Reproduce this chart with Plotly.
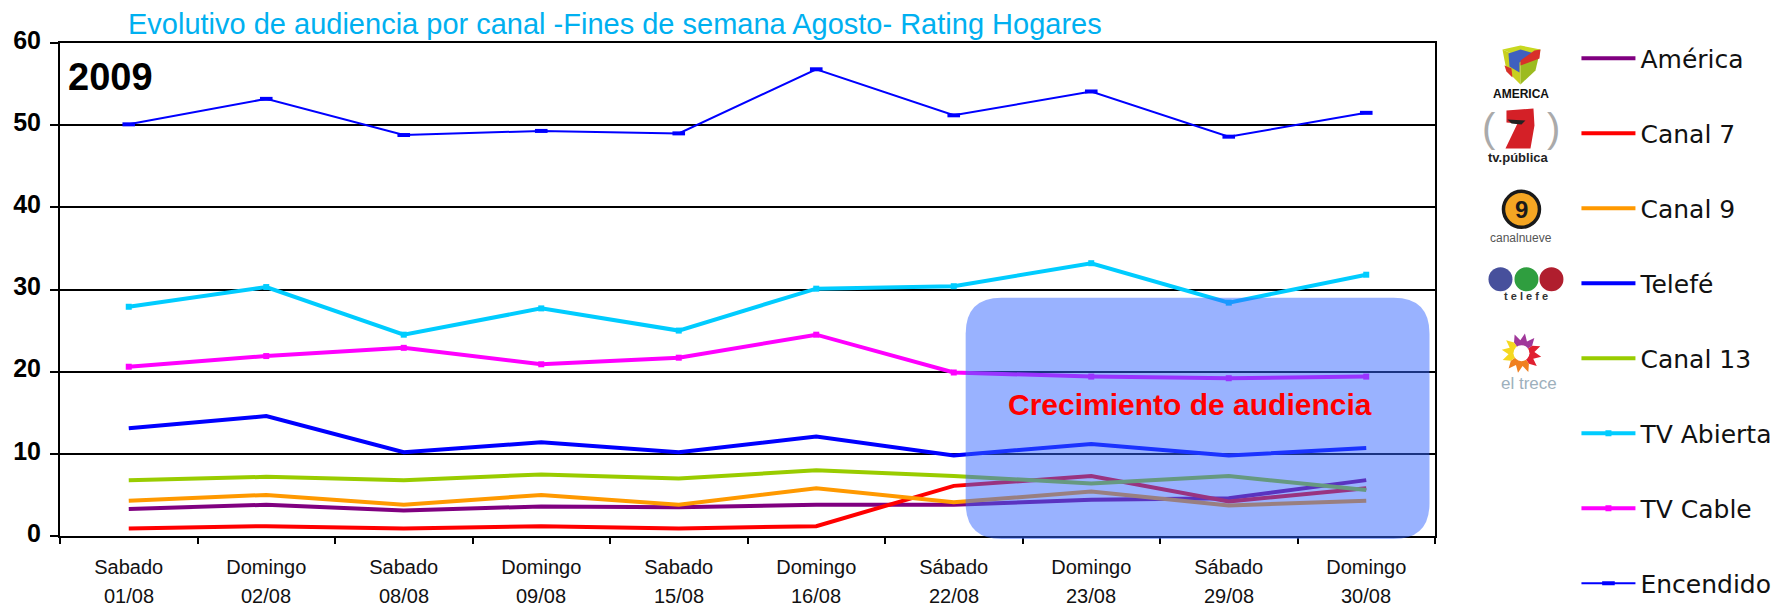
import math
import plotly.graph_objects as go

dates = ["01/08", "02/08", "08/08", "09/08", "15/08", "16/08", "22/08", "23/08", "29/08", "30/08"]
days = ["Sabado", "Domingo", "Sabado", "Domingo", "Sabado", "Domingo", "Sábado", "Domingo", "Sábado", "Domingo"]

america = [3.3, 3.8, 3.1, 3.6, 3.5, 3.8, 3.8, 4.4, 4.6, 6.8]
canal7 = [0.9, 1.2, 0.9, 1.2, 0.9, 1.2, 6.1, 7.3, 4.2, 5.8]
canal9 = [4.3, 5.0, 3.8, 5.0, 3.8, 5.8, 4.1, 5.4, 3.7, 4.3]
telefe = [13.1, 14.6, 10.2, 11.4, 10.2, 12.1, 9.8, 11.2, 9.8, 10.7]
canal13 = [6.8, 7.2, 6.8, 7.5, 7.0, 8.0, 7.3, 6.4, 7.3, 5.6]
tv_abierta = [27.9, 30.3, 24.5, 27.7, 25.0, 30.1, 30.4, 33.2, 28.4, 31.8]
tv_cable = [20.6, 21.9, 22.9, 20.9, 21.7, 24.5, 19.9, 19.4, 19.2, 19.4]
encendido = [50.1, 53.2, 48.8, 49.3, 49.0, 56.8, 51.2, 54.1, 48.6, 51.5]

series = [
    ("América", america, "#800080", 4, None),
    ("Canal 7", canal7, "#FF0000", 4, None),
    ("Canal 9", canal9, "#FF9900", 4, None),
    ("Telefé", telefe, "#0000FF", 4, None),
    ("Canal 13", canal13, "#99CC00", 4, None),
    ("TV Abierta", tv_abierta, "#00CCFF", 4, dict(symbol="square", size=6)),
    ("TV Cable", tv_cable, "#FF00FF", 4, dict(symbol="square", size=6)),
    ("Encendido", encendido, "#0000FF", 2, dict(symbol="line-ew", size=9)),
]

PL, PR, PT, PB = 60.0, 1435.5, 42.5, 536.0
def X(p): return (p - PL) / (PR - PL)
def Y(p): return (PB - p) / (PB - PT)

fig = go.Figure()
for name, vals, color, w, mk in series:
    marker = None
    if mk:
        marker = dict(color=color, line=dict(color=color, width=4 if mk["symbol"] == "line-ew" else 0), **mk)
    fig.add_trace(go.Scatter(
        x=dates, y=vals, name=name, legendgroup=name, mode="lines+markers" if mk else "lines",
        line=dict(color=color, width=w), marker=marker,
    ))

shapes = []
def poly(pts, fill, line=None, lw=0):
    d = "M" + " L".join(f"{X(a):.5f},{Y(b):.5f}" for a, b in pts) + " Z"
    shapes.append(dict(type="path", xref="paper", yref="paper", path=d, fillcolor=fill,
                       line=dict(color=line or fill, width=lw), layer="above"))
def circ(cx, cy, r, fill, line=None, lw=0):
    shapes.append(dict(type="circle", xref="paper", yref="paper", x0=X(cx - r), x1=X(cx + r),
                       y0=Y(cy + r), y1=Y(cy - r), fillcolor=fill,
                       line=dict(color=line or fill, width=lw), layer="above"))

# rounded highlight box
x0, x1, y0, y1, r = 966, 1430, 297.5, 539, 36
box = (f"M{X(x0+r):.5f},{Y(y0):.5f} L{X(x1-r):.5f},{Y(y0):.5f} Q{X(x1):.5f},{Y(y0):.5f} {X(x1):.5f},{Y(y0+r):.5f} "
       f"L{X(x1):.5f},{Y(y1-r):.5f} Q{X(x1):.5f},{Y(y1):.5f} {X(x1-r):.5f},{Y(y1):.5f} "
       f"L{X(x0+r):.5f},{Y(y1):.5f} Q{X(x0):.5f},{Y(y1):.5f} {X(x0):.5f},{Y(y1-r):.5f} "
       f"L{X(x0):.5f},{Y(y0+r):.5f} Q{X(x0):.5f},{Y(y0):.5f} {X(x0+r):.5f},{Y(y0):.5f} Z")
shapes.append(dict(type="path", xref="paper", yref="paper", path=box, fillcolor="#3366FF",
                   opacity=0.5, line=dict(width=0), layer="above"))

# América logo (cube)
poly([(1503, 49), (1521, 45), (1541, 49), (1521, 57)], "#C8D820")
poly([(1503, 49), (1521, 57), (1521, 84), (1507, 70)], "#C8D020")
poly([(1541, 49), (1521, 57), (1521, 84), (1536, 70)], "#9CBB20")
poly([(1509, 53), (1521, 49), (1535, 53), (1520, 62), (1520, 72), (1510, 66)], "#3F60C0")
poly([(1535, 50), (1541, 49), (1540, 58), (1521, 65), (1521, 60)], "#D8302A")
poly([(1505, 65), (1512, 68), (1513, 77), (1507, 71)], "#D8302A")
# Canal 7 logo
poly([(1507, 110), (1534, 108), (1535, 125), (1531, 148), (1506, 148), (1518, 123), (1507, 122)], "#D42027")
poly([(1508, 119), (1526, 120), (1522, 124), (1512, 123)], "#222222")
# Canal 9 logo
circ(1522, 209, 18, "#F5A623", "#1A1A1A", 3.5)
# Telefé logo
for cx, c in [(1501, "#47509C"), (1527, "#2F9E3F"), (1552, "#B01E2E")]:
    circ(cx, 279, 12, c)
# El trece logo (sun)
cx, cy = 1522, 353
sun = ["#A0389A", "#E02030", "#F08020", "#F5D820"]
for k, c in enumerate(sun):
    pts = [(cx, cy)]
    for j in range(7):
        a = math.radians(-125 + 90 * k + j * 15)
        rr = 20 if j % 2 else 13
        pts.append((cx + rr * math.cos(a), cy + rr * math.sin(a)))
    poly(pts, c)
circ(cx, cy, 8, "white")

def note(px, py, text, size, color="#000000", bold=False, family="Liberation Sans", xanchor="left"):
    return dict(xref="paper", yref="paper", x=X(px), y=Y(py), text=f"<b>{text}</b>" if bold else text,
                showarrow=False, xanchor=xanchor, yanchor="middle",
                font=dict(size=size, color=color, family=family))

annotations = [
    note(126, 23, "Evolutivo de audiencia por canal -Fines de semana Agosto- Rating Hogares", 29, "#00B0F0"),
    note(66, 77, "2009", 38, bold=True),
    note(1006, 404, "Crecimiento de audiencia", 30, "#FF0000", bold=True),
    note(1522, 94, "AMERICA", 12, "#111111", bold=True, xanchor="center"),
    note(1490, 128, "(", 40, "#AAAAAA", xanchor="center"),
    note(1554, 128, ")", 40, "#AAAAAA", xanchor="center"),
    note(1519, 157, "tv.pública", 13, "#222222", bold=True, xanchor="center"),
    note(1522, 209, "9", 24, "#1A1A1A", bold=True, xanchor="center"),
    note(1522, 238, "canalnueve", 12, "#555555", xanchor="center"),
    note(1527, 296, "t e l e f e", 11, "#333333", bold=True, xanchor="center"),
    note(1530, 383, "el trece", 17, "#9DB0BC", xanchor="center"),
]
for d in dates:
    annotations.append(dict(xref="x", yref="paper", x=d, y=Y(596), text=d, showarrow=False,
                            xanchor="center", yanchor="middle", height=19,
                            font=dict(size=20, color="#111111", family="Liberation Sans")))

fig.update_layout(
    width=1783, height=606, paper_bgcolor="white", plot_bgcolor="white",
    margin=dict(l=PL, r=1783 - PR, t=PT, b=606 - PB, autoexpand=False),
    font=dict(family="Liberation Sans"),
    shapes=shapes, annotations=annotations,
    showlegend=True,
    legend=dict(x=X(1577), y=Y(35), xanchor="left", yanchor="top", itemwidth=54,
                tracegroupgap=39.5, maxheight=600, font=dict(size=25, family="DejaVu Sans", color="#111111"),
                bgcolor="rgba(0,0,0,0)", borderwidth=0, itemclick=False, itemdoubleclick=False),
    xaxis=dict(type="category", range=[-0.5, 9.5], tickmode="array", tickvals=dates, ticktext=days,
               tickson="boundaries", ticks="outside", ticklen=6, tickwidth=1.5, tickcolor="black",
               showline=True, linecolor="black", linewidth=2, mirror=True, showgrid=False,
               tickangle=0, ticklabelstandoff=12, tickfont=dict(size=20, color="#111111")),
    yaxis=dict(range=[0, 60], tickmode="array", tickvals=[0, 10, 20, 30, 40, 50, 60],
               ticks="outside", ticklen=8, tickwidth=1.5, tickcolor="black",
               showline=True, linecolor="black", linewidth=2, mirror=True,
               showgrid=True, gridcolor="black", gridwidth=1.5, zeroline=False,
               ticklabelstandoff=4, ticklabelshift=-3,
               tickfont=dict(size=25, color="black", family="Liberation Sans", weight="bold")),
)

fig.write_html("out.html", config=dict(displayModeBar=False),
               post_script="document.body.style.margin='0';")
